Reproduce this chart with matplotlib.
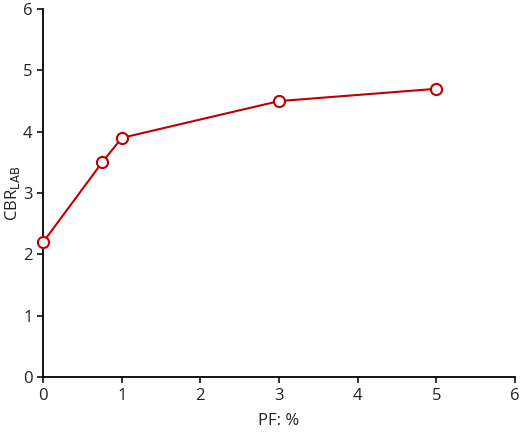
import matplotlib.pyplot as plt

# PF content (%) vs laboratory CBR
pf = [0, 0.75, 1, 3, 5]
cbr = [2.2, 3.5, 3.9, 4.5, 4.7]

plt.rcParams['font.family'] = ['Open Sans', 'DejaVu Sans']

fig = plt.figure(figsize=(5.2, 4.32), dpi=100)
ax = fig.add_axes([0.083, 0.127, 0.907, 0.852])

ax.plot(pf, cbr, color='#c00000', linewidth=1.5, marker='o', markersize=8,
        markerfacecolor='white', markeredgecolor='#c00000', markeredgewidth=1.5,
        clip_on=False, zorder=3)

ax.set_xlim(0, 6)
ax.set_ylim(0, 6)
ax.set_xticks(range(0, 7))
ax.set_yticks(range(0, 7))
ax.spines['top'].set_visible(False)
ax.spines['right'].set_visible(False)
ax.spines['left'].set_linewidth(1.3)
ax.spines['bottom'].set_linewidth(1.3)
ax.tick_params(direction='out', length=4, width=1.3, labelsize=12, colors='#222222')

ax.set_xlabel('PF: %', fontsize=12, color='#222222', labelpad=7)
ax.set_ylabel('CBR$_{\\mathrm{LAB}}$', fontsize=12, color='#222222', va='center')
ax.yaxis.set_label_coords(-0.065, 0.5)

fig.savefig('out.png', dpi=100)
plt.close(fig)
